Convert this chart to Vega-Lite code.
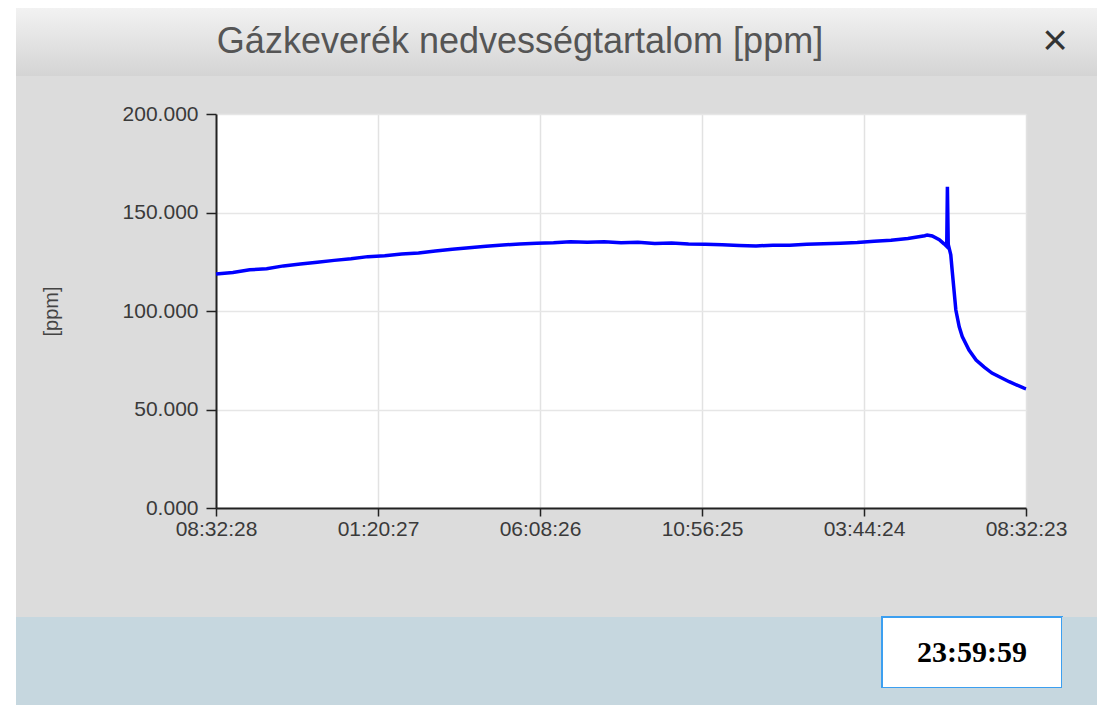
{
  "$schema": "https://vega.github.io/schema/vega-lite/v6.json",
  "background": "#dcdcdc",
  "padding": 0,
  "columns": 4,
  "spacing": 0,
  "bounds": "flush",
  "align": "each",
  "config": {
    "view": {"stroke": null},
    "text": {"font": "Liberation Sans"}
  },
  "concat": [
    {"width": 16, "height": 8, "view": {"fill": "#ffffff"}, "data": {"values": []}, "mark": "point"},
    {"width": 200, "height": 8, "view": {"fill": "#ffffff"}, "data": {"values": []}, "mark": "point"},
    {"width": 810, "height": 8, "view": {"fill": "#ffffff"}, "data": {"values": []}, "mark": "point"},
    {"width": 71, "height": 8, "view": {"fill": "#ffffff"}, "data": {"values": []}, "mark": "point"},

    {"width": 16, "height": 68, "view": {"fill": "#ffffff"}, "data": {"values": []}, "mark": "point"},
    {
      "hconcat": [
        {
          "width": 1008, "height": 68,
          "view": {"fill": {"gradient": "linear", "x1": 0, "y1": 0, "x2": 0, "y2": 1, "stops": [{"offset": 0, "color": "#f2f2f2"}, {"offset": 1, "color": "#d4d4d4"}]}},
          "data": {"values": [{"heading": "Gázkeverék nedvességtartalom [ppm]"}]},
          "mark": {"type": "text", "font": "Liberation Sans", "fontSize": 36, "color": "#555555"},
          "encoding": {"text": {"field": "heading", "type": "nominal"}}
        },
        {
          "width": 62, "height": 68,
          "view": {"fill": {"gradient": "linear", "x1": 0, "y1": 0, "x2": 0, "y2": 1, "stops": [{"offset": 0, "color": "#f2f2f2"}, {"offset": 1, "color": "#d4d4d4"}]}},
          "data": {"values": [{"close": "×"}]},
          "mark": {"type": "text", "font": "Liberation Sans", "fontSize": 44, "color": "#333333"},
          "encoding": {"text": {"field": "close", "type": "nominal"}}
        },
        {
          "width": 11, "height": 68,
          "view": {"fill": {"gradient": "linear", "x1": 0, "y1": 0, "x2": 0, "y2": 1, "stops": [{"offset": 0, "color": "#f2f2f2"}, {"offset": 1, "color": "#d4d4d4"}]}},
          "data": {"values": []}, "mark": "point"
        }
      ],
      "spacing": 0,
      "bounds": "flush"
    },
    {"width": 1, "height": 1, "data": {"values": []}, "mark": "point"},
    {"width": 1, "height": 1, "data": {"values": []}, "mark": "point"},

    {"width": 16, "height": 38, "view": {"fill": "#ffffff"}, "data": {"values": []}, "mark": "point"},
    {"width": 1, "height": 1, "data": {"values": []}, "mark": "point"},
    {"width": 1, "height": 1, "data": {"values": []}, "mark": "point"},
    {"width": 1, "height": 1, "data": {"values": []}, "mark": "point"},

    {"width": 16, "height": 394, "view": {"fill": "#ffffff"}, "data": {"values": []}, "mark": "point"},
    {"width": 1, "height": 1, "data": {"values": []}, "mark": "point"},
    {
      "width": 810, "height": 394,
      "view": {"fill": "#ffffff"},
      "data": {"values": [
        {"time": "2024-01-01T08:32:28", "ppm": 118.8},
        {"time": "2024-01-01T09:02:28", "ppm": 119.6},
        {"time": "2024-01-01T09:32:28", "ppm": 120.9},
        {"time": "2024-01-01T10:02:28", "ppm": 121.5},
        {"time": "2024-01-01T10:32:28", "ppm": 122.9},
        {"time": "2024-01-01T11:02:28", "ppm": 123.8},
        {"time": "2024-01-01T11:32:28", "ppm": 124.8},
        {"time": "2024-01-01T12:02:28", "ppm": 125.7},
        {"time": "2024-01-01T12:32:28", "ppm": 126.5},
        {"time": "2024-01-01T13:02:28", "ppm": 127.6},
        {"time": "2024-01-01T13:32:28", "ppm": 128.1},
        {"time": "2024-01-01T14:02:28", "ppm": 128.9},
        {"time": "2024-01-01T14:32:28", "ppm": 129.5},
        {"time": "2024-01-01T15:02:28", "ppm": 130.5},
        {"time": "2024-01-01T15:32:28", "ppm": 131.4},
        {"time": "2024-01-01T16:02:28", "ppm": 132.1},
        {"time": "2024-01-01T16:32:28", "ppm": 132.9},
        {"time": "2024-01-01T17:02:28", "ppm": 133.5},
        {"time": "2024-01-01T17:32:28", "ppm": 134.0},
        {"time": "2024-01-01T18:02:28", "ppm": 134.4},
        {"time": "2024-01-01T18:32:28", "ppm": 134.6},
        {"time": "2024-01-01T19:02:28", "ppm": 135.1},
        {"time": "2024-01-01T19:32:28", "ppm": 134.9},
        {"time": "2024-01-01T20:02:28", "ppm": 135.2},
        {"time": "2024-01-01T20:32:28", "ppm": 134.7},
        {"time": "2024-01-01T21:02:28", "ppm": 134.9},
        {"time": "2024-01-01T21:32:28", "ppm": 134.3},
        {"time": "2024-01-01T22:02:28", "ppm": 134.5},
        {"time": "2024-01-01T22:32:28", "ppm": 134.0},
        {"time": "2024-01-01T23:02:28", "ppm": 133.9},
        {"time": "2024-01-01T23:32:28", "ppm": 133.6},
        {"time": "2024-01-02T00:02:28", "ppm": 133.3},
        {"time": "2024-01-02T00:32:28", "ppm": 133.0},
        {"time": "2024-01-02T01:02:28", "ppm": 133.4},
        {"time": "2024-01-02T01:32:28", "ppm": 133.4},
        {"time": "2024-01-02T02:02:28", "ppm": 133.9},
        {"time": "2024-01-02T02:32:28", "ppm": 134.1},
        {"time": "2024-01-02T03:02:28", "ppm": 134.4},
        {"time": "2024-01-02T03:32:28", "ppm": 134.8},
        {"time": "2024-01-02T04:02:28", "ppm": 135.4},
        {"time": "2024-01-02T04:32:28", "ppm": 135.9},
        {"time": "2024-01-02T05:02:28", "ppm": 136.8},
        {"time": "2024-01-02T05:32:28", "ppm": 138.2},
        {"time": "2024-01-02T05:36:44", "ppm": 138.6},
        {"time": "2024-01-02T05:45:40", "ppm": 138.1},
        {"time": "2024-01-02T05:58:16", "ppm": 136.2},
        {"time": "2024-01-02T06:06:40", "ppm": 134.1},
        {"time": "2024-01-02T06:11:28", "ppm": 132.8},
        {"time": "2024-01-02T06:12:40", "ppm": 163.1},
        {"time": "2024-01-02T06:14:10", "ppm": 133.8},
        {"time": "2024-01-02T06:18:40", "ppm": 128.5},
        {"time": "2024-01-02T06:21:04", "ppm": 120.8},
        {"time": "2024-01-02T06:27:40", "ppm": 100.5},
        {"time": "2024-01-02T06:33:40", "ppm": 92.0},
        {"time": "2024-01-02T06:39:04", "ppm": 87.0},
        {"time": "2024-01-02T06:51:04", "ppm": 80.2},
        {"time": "2024-01-02T07:03:40", "ppm": 75.1},
        {"time": "2024-01-02T07:18:04", "ppm": 71.5},
        {"time": "2024-01-02T07:31:52", "ppm": 68.5},
        {"time": "2024-01-02T08:02:28", "ppm": 64.1},
        {"time": "2024-01-02T08:28:52", "ppm": 60.8},
        {"time": "2024-01-02T08:32:23", "ppm": 60.5}
      ]},
      "mark": {"type": "line", "color": "#0000ff", "strokeWidth": 3.5},
      "encoding": {
        "x": {
          "field": "time", "type": "temporal",
          "scale": {"domain": [
            {"year": 2024, "month": 1, "date": 1, "hours": 8, "minutes": 32, "seconds": 28},
            {"year": 2024, "month": 1, "date": 2, "hours": 8, "minutes": 32, "seconds": 23}
          ], "nice": false},
          "axis": {
            "title": null,
            "values": [
              {"year": 2024, "month": 1, "date": 1, "hours": 8, "minutes": 32, "seconds": 28},
              {"year": 2024, "month": 1, "date": 1, "hours": 13, "minutes": 20, "seconds": 27},
              {"year": 2024, "month": 1, "date": 1, "hours": 18, "minutes": 8, "seconds": 26},
              {"year": 2024, "month": 1, "date": 1, "hours": 22, "minutes": 56, "seconds": 25},
              {"year": 2024, "month": 1, "date": 2, "hours": 3, "minutes": 44, "seconds": 24},
              {"year": 2024, "month": 1, "date": 2, "hours": 8, "minutes": 32, "seconds": 23}
            ],
            "format": "%I:%M:%S",
            "labelFont": "Liberation Sans", "labelFontSize": 21, "labelColor": "#3a3a3a",
            "labelFlush": false, "labelOverlap": false, "labelPadding": 2,
            "tickSize": 8, "tickColor": "#222222", "tickWidth": 1.5,
            "domainColor": "#222222", "domainWidth": 2,
            "grid": true, "gridColor": "#e2e2e2", "gridWidth": 1.5
          }
        },
        "y": {
          "field": "ppm", "type": "quantitative",
          "scale": {"domain": [0, 200], "nice": false},
          "axis": {
            "title": "[ppm]",
            "titleFont": "Liberation Sans", "titleFontSize": 20, "titleFontWeight": "normal", "titleColor": "#444444",
            "titlePadding": 61,
            "values": [0, 50, 100, 150, 200],
            "format": ".3f",
            "labelFont": "Liberation Sans", "labelFontSize": 21, "labelColor": "#3a3a3a",
            "labelPadding": 8, "labelFlush": false,
            "tickSize": 10, "tickColor": "#222222", "tickWidth": 1.5,
            "domainColor": "#222222", "domainWidth": 2,
            "grid": true, "gridColor": "#e6e6e6", "gridWidth": 1.5
          }
        }
      }
    },
    {"width": 1, "height": 1, "data": {"values": []}, "mark": "point"},

    {"width": 16, "height": 109, "view": {"fill": "#ffffff"}, "data": {"values": []}, "mark": "point"},
    {"width": 1, "height": 1, "data": {"values": []}, "mark": "point"},
    {"width": 1, "height": 1, "data": {"values": []}, "mark": "point"},
    {"width": 1, "height": 1, "data": {"values": []}, "mark": "point"},

    {"width": 16, "height": 88, "view": {"fill": "#ffffff"}, "data": {"values": []}, "mark": "point"},
    {
      "concat": [
        {"width": 866, "height": 71, "view": {"fill": "#c6d7df"}, "data": {"values": []}, "mark": "point"},
        {
          "width": 180, "height": 71,
          "view": {"fill": "#ffffff", "stroke": "#3c9ff0", "strokeWidth": 2},
          "data": {"values": [{"clock": "23:59:59"}]},
          "mark": {"type": "text", "font": "Liberation Serif", "fontWeight": "bold", "fontSize": 30, "color": "#000000"},
          "encoding": {"text": {"field": "clock", "type": "nominal"}}
        },
        {"width": 35, "height": 71, "view": {"fill": "#c6d7df"}, "data": {"values": []}, "mark": "point"},
        {"width": 866, "height": 17, "view": {"fill": "#c6d7df"}, "data": {"values": []}, "mark": "point"},
        {"width": 180, "height": 17, "view": {"fill": "#c6d7df"}, "data": {"values": []}, "mark": "point"},
        {"width": 35, "height": 17, "view": {"fill": "#c6d7df"}, "data": {"values": []}, "mark": "point"}
      ],
      "columns": 3,
      "spacing": 0,
      "bounds": "flush",
      "align": "each"
    },
    {"width": 1, "height": 1, "data": {"values": []}, "mark": "point"},
    {"width": 1, "height": 1, "data": {"values": []}, "mark": "point"}
  ]
}
